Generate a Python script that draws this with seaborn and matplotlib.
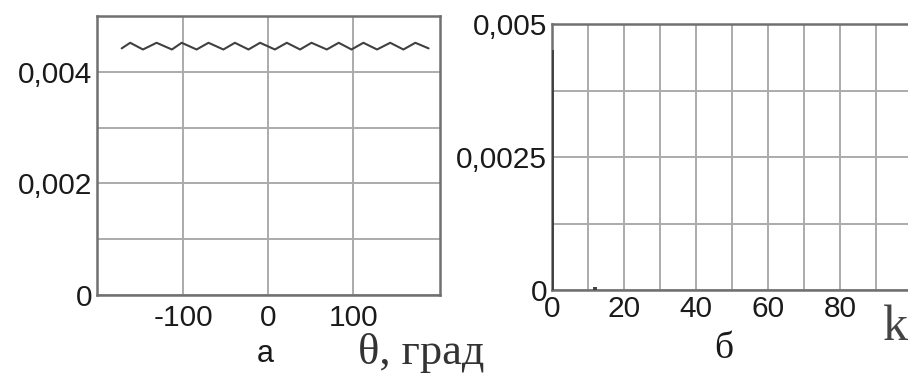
import numpy as np
import pandas as pd
import matplotlib
matplotlib.use("Agg")
import matplotlib.pyplot as plt
import seaborn as sns
from matplotlib.ticker import MultipleLocator, FixedLocator

sns.set_theme(style="white")
plt.rcParams['font.family'] = ['Liberation Sans', 'DejaVu Sans']

# Panel a: value vs angle theta (deg) (peaks/troughs)
theta = [-172, -162, -147, -131, -113, -101.5, -84, -70, -52.5, -39, -23, -9.4,
         8, 22, 37.6, 51, 69, 83, 98, 112, 128, 143.5, 159, 173, 188.6]
value = [0.00442, 0.00452, 0.00440, 0.00452, 0.00440, 0.00452, 0.00440, 0.00452,
         0.00440, 0.00452, 0.00440, 0.00452, 0.00440, 0.00452, 0.00440, 0.00452,
         0.00440, 0.00452, 0.00440, 0.00452, 0.00440, 0.00452, 0.00440, 0.00452,
         0.00442]

# Panel b: spectrum vs harmonic number k
k_vals = [0, 12]
amp_vals = [0.00451, 0.00006]

left_yticks = [0, 0.002, 0.004]
left_yticklabels = ["0", "0,002", "0,004"]
left_xticks = [-100, 0, 100]
right_yticks = [0, 0.0025, 0.005]
right_yticklabels = ["0", "0,0025", "0,005"]
right_xticks = [0, 20, 40, 60, 80]

W, H = 908, 378
fig = plt.figure(figsize=(W / 100, H / 100), dpi=100)
fig.patch.set_facecolor("white")

ax1 = fig.add_axes([97 / W, 1 - 295 / H, (440 - 97) / W, (295 - 16) / H])
ax2 = fig.add_axes([552 / W, 1 - 290 / H, (912 - 552) / W, (290 - 24) / H])

grid_kw = dict(color="#ababab", linewidth=1.4)
tick_fs = 21.5

# ---- panel a
df1 = pd.DataFrame({"theta": theta, "value": value})
sns.lineplot(data=df1, x="theta", y="value", ax=ax1, color="#404040", linewidth=1.5)
ax1.set_xlim(-201, 202)
ax1.set_ylim(0, 0.005)
ax1.xaxis.set_major_locator(FixedLocator(left_xticks))
ax1.set_xticklabels([str(t) for t in left_xticks])
ax1.yaxis.set_major_locator(FixedLocator(left_yticks))
ax1.set_yticklabels(left_yticklabels)
ax1.yaxis.set_minor_locator(MultipleLocator(0.001))
ax1.grid(True, which="both", axis="y", **grid_kw)
ax1.grid(True, which="major", axis="x", **grid_kw)
ax1.set_xlabel("")
ax1.set_ylabel("")

# ---- panel b
ax2.vlines(k_vals, 0, amp_vals, color="#404040", linewidth=2.8, zorder=3)
ax2.set_xlim(0, 100)
ax2.set_ylim(0, 0.005)
ax2.xaxis.set_major_locator(FixedLocator(right_xticks))
ax2.set_xticklabels([str(t) for t in right_xticks])
ax2.xaxis.set_minor_locator(MultipleLocator(10))
ax2.yaxis.set_major_locator(FixedLocator(right_yticks))
ax2.set_yticklabels(right_yticklabels)
ax2.yaxis.set_minor_locator(MultipleLocator(0.00125))
ax2.grid(True, which="both", **grid_kw)

for ax in (ax1, ax2):
    ax.set_axisbelow(True)
    for s in ax.spines.values():
        s.set_visible(True)
        s.set_color("#707070")
        s.set_linewidth(1.8)
    ax.tick_params(which="both", length=0, labelsize=tick_fs, colors="#1a1a1a")
    ax.tick_params(axis="y", pad=3.5)
    ax.set_facecolor("white")

ax1.tick_params(axis="x", pad=6.5)
ax2.tick_params(axis="x", pad=3.5)

# captions
serif = ["Liberation Serif", "DejaVu Serif"]
fig.text(265 / W, 1 - 362 / H, "а", fontsize=22, ha="center", va="baseline", color="#1a1a1a")
fig.text(358 / W, 1 - 364 / H, "θ, град", fontsize=32, ha="left", va="baseline",
         family=serif, color="#333333")
fig.text(724 / W, 1 - 358 / H, "б", fontsize=27, ha="center", va="baseline",
         family=serif, color="#1a1a1a")
fig.text(883 / W, 1 - 340 / H, "k", fontsize=36, ha="left", va="baseline",
         family=serif, color="#444444")

fig.savefig("out.png", dpi=100, facecolor="white")
